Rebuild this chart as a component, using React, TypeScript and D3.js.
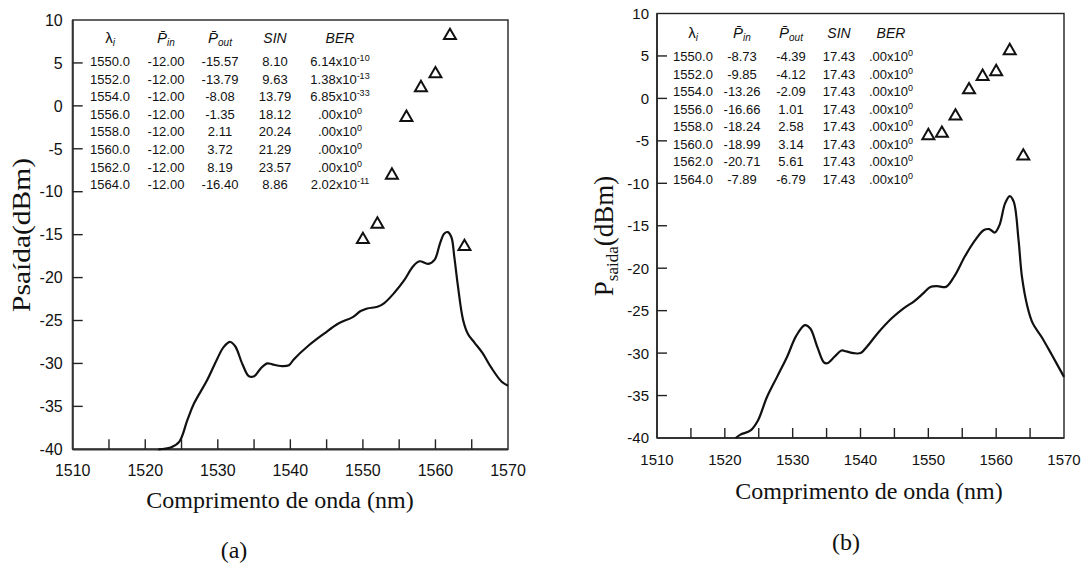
import React from 'react';
import * as d3 from 'd3';

// ---------- DATA ----------
const WAVELENGTHS = [1550.0, 1552.0, 1554.0, 1556.0, 1558.0, 1560.0, 1562.0, 1564.0];

const A_PIN = [-12.0, -12.0, -12.0, -12.0, -12.0, -12.0, -12.0, -12.0];
const A_POUT = [-15.57, -13.79, -8.08, -1.35, 2.11, 3.72, 8.19, -16.4];
const A_SIN = [8.1, 9.63, 13.79, 18.12, 20.24, 21.29, 23.57, 8.86];
const A_BER_MANT = ['6.14', '1.38', '6.85', '.00', '.00', '.00', '.00', '2.02'];
const A_BER_EXP = ['-10', '-13', '-33', '0', '0', '0', '0', '-11'];

const B_PIN = [-8.73, -9.85, -13.26, -16.66, -18.24, -18.99, -20.71, -7.89];
const B_POUT = [-4.39, -4.12, -2.09, 1.01, 2.58, 3.14, 5.61, -6.79];
const B_SIN = [17.43, 17.43, 17.43, 17.43, 17.43, 17.43, 17.43, 17.43];
const B_BER_MANT = ['.00', '.00', '.00', '.00', '.00', '.00', '.00', '.00'];
const B_BER_EXP = ['0', '0', '0', '0', '0', '0', '0', '0'];

const X_LABEL_TICKS = [1510, 1520, 1530, 1540, 1550, 1560, 1570];
const X_MINOR_TICKS = [1515, 1520, 1525, 1530, 1535, 1540, 1545, 1550, 1555, 1560, 1565];
const Y_LABEL_TICKS = [10, 5, 0, -5, -10, -15, -20, -25, -30, -35, -40];
const Y_MINOR_TICKS = [5, 0, -5, -10, -15, -20, -25, -30, -35];

const A_CURVE_WL = [1521.8, 1523.5, 1524.7, 1525.8, 1526.7, 1528.5, 1529.9, 1530.8, 1531.7, 1532.4, 1533.4, 1534.3, 1535.0, 1535.9, 1536.8, 1537.5, 1538.7, 1539.8, 1540.5, 1542.4, 1544.7, 1546.5, 1548.6, 1549.7, 1550.6, 1552.0, 1552.9, 1554.3, 1555.7, 1556.9, 1557.8, 1559.0, 1559.9, 1560.6, 1561.2, 1561.7, 1562.2, 1562.6, 1563.1, 1563.8, 1564.5, 1565.4, 1566.5, 1567.7, 1569.1, 1570.0];
const A_CURVE_P = [-40.0, -39.8, -39.1, -36.6, -34.7, -32.0, -29.5, -28.1, -27.5, -28.0, -30.1, -31.5, -31.5, -30.6, -30.0, -30.1, -30.3, -30.2, -29.5, -28.0, -26.5, -25.4, -24.6, -23.9, -23.6, -23.4, -23.0, -21.8, -20.3, -18.7, -18.1, -18.4, -17.9, -16.1, -14.9, -14.7, -15.3, -17.6, -21.0, -24.9, -26.6, -27.6, -28.8, -30.5, -32.1, -32.6];

const B_CURVE_WL = [1521.6, 1522.3, 1523.8, 1524.9, 1526.2, 1527.7, 1529.2, 1530.5, 1531.8, 1532.6, 1533.6, 1534.6, 1535.1, 1536.2, 1537.2, 1537.9, 1539.0, 1540.0, 1541.0, 1542.6, 1544.6, 1546.4, 1547.9, 1549.2, 1550.3, 1551.3, 1552.6, 1553.8, 1555.4, 1556.9, 1558.2, 1559.0, 1559.8, 1560.5, 1561.3, 1562.0, 1562.6, 1563.3, 1563.8, 1564.6, 1565.4, 1566.7, 1568.2, 1570.0];
const B_CURVE_P = [-40.0, -39.6, -39.1, -37.9, -35.2, -32.8, -30.4, -28.0, -26.7, -27.1, -29.2, -31.1, -31.2, -30.4, -29.7, -29.8, -30.0, -30.0, -29.2, -27.6, -25.9, -24.7, -23.9, -23.0, -22.2, -22.1, -22.2, -21.0, -18.6, -16.7, -15.5, -15.4, -15.8, -14.9, -12.4, -11.5, -12.2, -16.7, -21.0, -24.5, -26.5, -28.1, -30.2, -32.8];

// ---------- COMPONENTS ----------
const SANS = '"Liberation Sans", Arial, Helvetica, sans-serif';
const SERIF = '"Liberation Serif", "Times New Roman", serif';

type PanelProps = {
  left: number; right: number; top: number; bottom: number;
  tickFont: number; yLabelGap: number;
  cols: number[]; headerY: number; rowY0: number; rowStep: number;
  pin: number[]; pout: number[]; sin: number[]; berM: string[]; berE: string[];
  curveWl: number[]; curveP: number[];
};

function Panel(p: PanelProps) {
  const x = d3.scaleLinear().domain([1510, 1570]).range([p.left, p.right]);
  const y = d3.scaleLinear().domain([-40, 10]).range([p.bottom, p.top]);
  const pts: [number, number][] = p.curveWl.map((w, i) => [w, p.curveP[i]]);
  const line = d3
    .line<[number, number]>()
    .x((d) => x(d[0]))
    .y((d) => y(d[1]))
    .curve(d3.curveCatmullRom.alpha(0.5));
  const tri = d3.symbol().type(d3.symbolTriangle).size(62)();
  const tickLen = 10;
  const rowFont = 13;
  const hdrFont = 15;
  return (
    <g>
      {/* frame */}
      <rect x={p.left} y={p.top} width={p.right - p.left} height={p.bottom - p.top} fill="none" stroke="#222" strokeWidth={1.4} />
      <line x1={p.left} x2={p.right} y1={p.bottom} y2={p.bottom} stroke="#333" strokeWidth={2.2} />
      <line x1={p.left} x2={p.left} y1={p.top} y2={p.bottom} stroke="#333" strokeWidth={2} />
      {/* ticks */}
      {X_MINOR_TICKS.map((t) => (
        <line key={'xt' + t} x1={x(t)} x2={x(t)} y1={p.bottom} y2={p.bottom - tickLen} stroke="#222" strokeWidth={1.4} />
      ))}
      {Y_MINOR_TICKS.map((t) => (
        <line key={'yt' + t} x1={p.left} x2={p.left + tickLen} y1={y(t)} y2={y(t)} stroke="#222" strokeWidth={1.4} />
      ))}
      {X_LABEL_TICKS.map((t) => (
        <text key={'xl' + t} x={x(t)} y={p.bottom + 27} fontFamily={SANS} fontSize={p.tickFont} textAnchor="middle" fill="#111">
          {t}
        </text>
      ))}
      {Y_LABEL_TICKS.map((t) => (
        <text key={'yl' + t} x={p.left - p.yLabelGap} y={y(t) + p.tickFont * 0.36} fontFamily={SANS} fontSize={p.tickFont} textAnchor="end" fill="#111">
          {t}
        </text>
      ))}
      {/* curve */}
      <path d={line(pts) || ''} fill="none" stroke="#111" strokeWidth={2.2} strokeLinejoin="round" />
      {/* markers */}
      {WAVELENGTHS.map((w, i) => (
        <path key={'m' + i} d={tri || ''} transform={`translate(${x(w)},${y(p.pout[i])})`} fill="none" stroke="#111" strokeWidth={2} />
      ))}
      {/* table header */}
      <g fontFamily={SANS} fill="#111" textAnchor="middle">
        <text x={p.cols[0]} y={p.headerY} fontSize={hdrFont}>
          λ<tspan fontSize={10} fontStyle="italic" dy={3}>i</tspan>
        </text>
        <text x={p.cols[1]} y={p.headerY} fontSize={hdrFont} fontStyle="italic">
          {'P\u0304'}<tspan fontSize={10} dy={3}>in</tspan>
        </text>
        <text x={p.cols[2]} y={p.headerY} fontSize={hdrFont} fontStyle="italic">
          {'P\u0304'}<tspan fontSize={10} dy={3}>out</tspan>
        </text>
        <text x={p.cols[3]} y={p.headerY} fontSize={hdrFont - 1} fontStyle="italic">SIN</text>
        <text x={p.cols[4]} y={p.headerY} fontSize={hdrFont - 1} fontStyle="italic">BER</text>
      </g>
      {/* table rows */}
      <g fontFamily={SANS} fill="#111" fontSize={rowFont} textAnchor="middle">
        {WAVELENGTHS.map((w, i) => {
          const ry = p.rowY0 + i * p.rowStep;
          return (
            <g key={'r' + i}>
              <text x={p.cols[0]} y={ry}>{w.toFixed(1)}</text>
              <text x={p.cols[1]} y={ry}>{p.pin[i].toFixed(2)}</text>
              <text x={p.cols[2]} y={ry}>{p.pout[i].toFixed(2)}</text>
              <text x={p.cols[3]} y={ry}>{p.sin[i].toFixed(2)}</text>
              <text x={p.cols[4]} y={ry}>
                {p.berM[i] + 'x10'}
                <tspan fontSize={9} dy={-5}>{p.berE[i]}</tspan>
              </text>
            </g>
          );
        })}
      </g>
    </g>
  );
}

export default function App() {
  return (
    <svg width={1083} height={573} style={{ position: 'absolute', left: 0, top: 0, background: '#fff' }}>
      <rect x={0} y={0} width={1083} height={573} fill="#fff" />
      <Panel
        left={72.7} right={508} top={20} bottom={449.3}
        tickFont={16} yLabelGap={10}
        cols={[110, 166, 220, 275, 340]} headerY={43} rowY0={66} rowStep={17.6}
        pin={A_PIN} pout={A_POUT} sin={A_SIN} berM={A_BER_MANT} berE={A_BER_EXP}
        curveWl={A_CURVE_WL} curveP={A_CURVE_P}
      />
      <Panel
        left={657} right={1064} top={13.5} bottom={438}
        tickFont={15} yLabelGap={8}
        cols={[693, 742, 791, 839, 891]} headerY={38} rowY0={61} rowStep={17.5}
        pin={B_PIN} pout={B_POUT} sin={B_SIN} berM={B_BER_MANT} berE={B_BER_EXP}
        curveWl={B_CURVE_WL} curveP={B_CURVE_P}
      />
      {/* axis titles */}
      <g fontFamily={SERIF} fill="#111">
        <text transform="translate(30,235) rotate(-90)" fontSize={26} textAnchor="middle" textLength={154} lengthAdjust="spacingAndGlyphs">
          Psaída(dBm)
        </text>
        <text transform="translate(613,236) rotate(-90)" fontSize={27} textAnchor="middle">
          P<tspan fontSize={17} dy={5}>saida</tspan><tspan dy={-5}>(dBm)</tspan>
        </text>
        <text x={280} y={508} fontSize={24} textAnchor="middle">Comprimento de onda (nm)</text>
        <text x={869} y={499} fontSize={24} textAnchor="middle">Comprimento de onda (nm)</text>
        <text x={234} y={558} fontSize={24} textAnchor="middle">(a)</text>
        <text x={846} y={550} fontSize={24} textAnchor="middle">(b)</text>
      </g>
    </svg>
  );
}
